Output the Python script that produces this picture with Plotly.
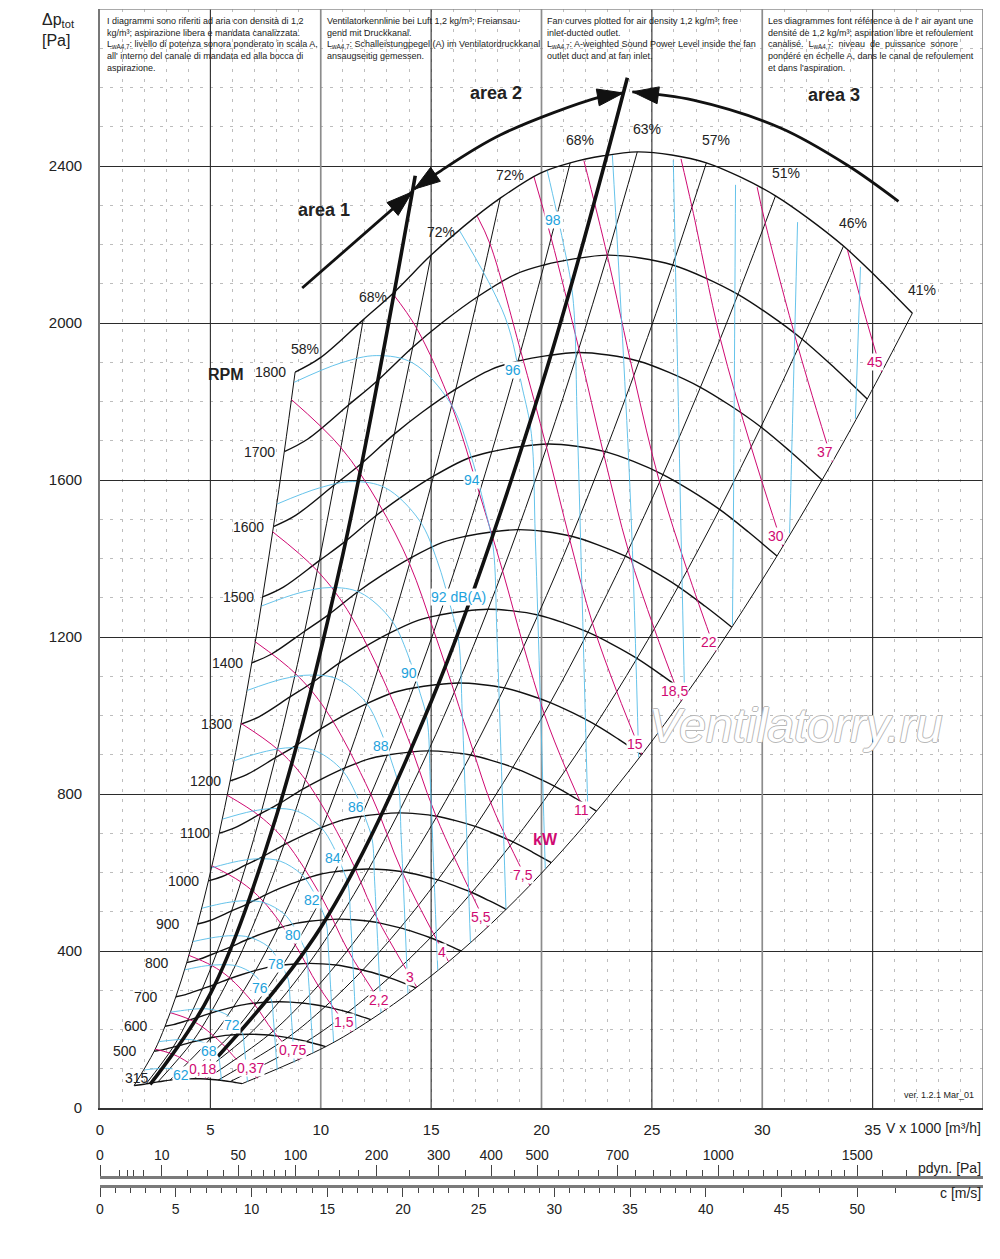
import numpy as np
import plotly.graph_objects as go

FONT = "Liberation Sans, Arial, sans-serif"
INK = "#111111"
MAGENTA = "#cf0a72"
CYAN_LINE = "#55bce8"
CYAN_TEXT = "#1ea2dc"

# ==========================================
# DATA
# ==========================================

# fan speeds drawn, and the 1800 rpm characteristic (V x 1000 m3/h, Pa)
rpm = [315, 500, 600, 700, 800, 900, 1000, 1100, 1200, 1300, 1400, 1500, 1600, 1700, 1800]
rpm_top = 1800
base_flow = [8.84, 9.97, 11.92, 13.28, 15.0, 16.45, 18.13, 19.95, 21.3, 22.8,
             24.34, 25.9, 27.47, 29.0, 30.6, 32.1, 33.68, 35.25, 36.8]
base_press = [1875, 1911, 2008, 2076, 2173, 2245, 2318, 2382, 2408, 2426,
              2436, 2428, 2408, 2372, 2324, 2266, 2196, 2113, 2025]

# efficiency lines, where they meet the 1800 rpm curve
eff_labels = ["58%", "68%", "72%", "72%", "68%", "63%", "57%", "51%", "46%", "41%"]
eff_flow = [8.84, 11.92, 15.0, 18.13, 21.3, 24.34, 27.47, 30.6, 33.68, 36.8]
eff_press = [1875, 2008, 2173, 2318, 2408, 2436, 2408, 2324, 2196, 2025]

# absorbed power lines [kW]
kw_labels = ["0,18", "0,37", "0,75", "1,5", "2,2", "3", "4", "5,5",
             "7,5", "11", "15", "18,5", "22", "30", "37", "45"]
kw_flow = [
    [2.50, 3.15, 3.64, 4.36, 4.82],
    [3.18, 4.00, 4.63, 5.55, 6.20, 7.14],
    [4.02, 5.06, 5.86, 7.02, 7.84, 9.04],
    [5.07, 6.38, 7.39, 8.85, 9.88, 11.39],
    [5.76, 7.25, 8.39, 10.05, 11.23, 12.94],
    [6.39, 8.04, 9.31, 11.15, 12.45, 14.35],
    [7.03, 8.85, 10.24, 12.27, 13.71, 15.79],
    [7.82, 9.84, 11.39, 13.64, 15.24, 17.56],
    [8.67, 10.91, 12.63, 14.02, 15.13, 16.05, 16.90, 17.70, 18.58, 19.47],
    [13.26, 14.34, 15.93, 17.18, 18.24, 19.19, 20.12, 21.11, 22.14],
    [17.09, 17.67, 19.06, 20.23, 21.29, 22.31, 23.41, 24.55],
    [19.66, 20.44, 21.69, 22.83, 23.93, 25.11, 26.33],
    [21.92, 22.98, 24.18, 25.35, 26.60, 27.89],
    [26.32, 26.82, 28.10, 29.50, 30.93],
    [29.77, 30.14, 31.63, 33.18],
    [33.86, 34.65, 35.41],
]
kw_press = [
    [150, 140, 128, 101, 75],
    [243, 227, 207, 163, 123, 76],
    [389, 363, 332, 262, 196, 122],
    [617, 576, 527, 415, 312, 194],
    [797, 743, 680, 536, 402, 250],
    [980, 914, 836, 659, 495, 308],
    [1188, 1107, 1013, 799, 599, 373],
    [1468, 1369, 1252, 987, 741, 461],
    [1805, 1683, 1540, 1387, 1214, 1060, 911, 778, 668, 567],
    [2075, 1987, 1790, 1567, 1368, 1176, 1005, 863, 733],
    [2272, 2201, 1928, 1683, 1446, 1235, 1061, 901],
    [2372, 2216, 1935, 1663, 1421, 1221, 1037],
    [2414, 2172, 1866, 1594, 1370, 1163],
    [2418, 2295, 1960, 1684, 1431],
    [2346, 2254, 1937, 1646],
    [2186, 2021, 1875],
]

# sound power level lines [dB(A)]; the last five are unlabelled
db_labels = ["62", "68", "72", "76", "78", "80", "82", "84", "86", "88", "90",
             "92 dB(A)", "94", "96", "98", "", "", "", "", ""]
db_label_at = [5.5] * 13 + [1.75, 0.7] + [None] * 5
db_flow = [
    [2.02, 2.50, 2.87, 3.25, 3.64, 3.83, 3.99, 4.08],
    [2.66, 3.29, 3.79, 4.28, 4.79, 5.05, 5.27, 5.38, 5.43, 5.50],
    [3.19, 3.96, 4.55, 5.15, 5.76, 6.08, 6.33, 6.47, 6.53, 6.61, 6.68],
    [3.84, 4.76, 5.48, 6.19, 6.93, 7.30, 7.61, 7.78, 7.85, 7.94, 8.03],
    [4.21, 5.22, 6.00, 6.78, 7.60, 8.01, 8.35, 8.53, 8.61, 8.71, 8.80],
    [4.62, 5.72, 6.58, 7.44, 8.33, 8.78, 9.15, 9.35, 9.44, 9.55, 9.65],
    [5.06, 6.28, 7.22, 8.16, 9.13, 9.63, 10.04, 10.25, 10.35, 10.47, 10.58],
    [5.55, 6.88, 7.91, 8.94, 10.01, 10.56, 11.00, 11.24, 11.35, 11.48, 11.60],
    [6.09, 7.54, 8.68, 9.80, 10.98, 11.58, 12.07, 12.33, 12.44, 12.59, 12.73],
    [6.68, 8.27, 9.52, 10.75, 12.04, 12.69, 13.23, 13.52, 13.64, 13.80, 13.95],
    [7.32, 9.07, 10.43, 11.79, 13.20, 13.92, 14.50, 14.82, 14.96, 15.13, 15.30],
    [8.03, 9.95, 11.44, 12.93, 14.48, 15.27, 15.91, 16.25, 16.41, 16.60, 16.78],
    [8.80, 10.90, 12.54, 14.17, 15.87, 16.73, 17.44, 17.81, 17.98, 18.19, 18.39],
    [16.29, 18.35, 19.12, 19.54, 19.72, 19.95, 20.17],
    [20.26, 20.97, 21.42, 21.62, 21.87, 22.11],
    [23.21, 24.03, 24.40],
    [25.97, 26.29, 26.48],
    [28.79, 28.70, 28.65],
    [31.60, 31.28, 31.24],
    [34.45, 34.22],
]
db_press = [
    [97, 100, 101, 100, 94, 88, 80, 75],
    [169, 173, 175, 173, 164, 153, 139, 130, 110, 71],
    [244, 250, 253, 250, 237, 221, 201, 188, 159, 113, 67],
    [352, 362, 365, 362, 342, 319, 291, 272, 230, 163, 97],
    [424, 435, 439, 435, 412, 384, 350, 327, 277, 197, 116],
    [509, 523, 528, 523, 495, 462, 421, 394, 333, 236, 140],
    [612, 629, 635, 629, 595, 555, 506, 473, 400, 284, 168],
    [736, 756, 763, 756, 715, 667, 608, 569, 481, 342, 202],
    [885, 909, 918, 909, 860, 802, 731, 684, 578, 411, 243],
    [1064, 1093, 1103, 1093, 1034, 964, 879, 822, 695, 494, 292],
    [1279, 1313, 1326, 1313, 1243, 1159, 1057, 989, 836, 594, 351],
    [1539, 1580, 1596, 1580, 1496, 1395, 1271, 1189, 1005, 714, 422],
    [1849, 1898, 1917, 1898, 1796, 1675, 1527, 1429, 1208, 858, 507],
    [2235, 2015, 1837, 1718, 1453, 1032, 610],
    [2388, 2208, 2066, 1746, 1240, 733],
    [2428, 1549, 893],
    [2415, 1549, 1052],
    [2352, 1549, 1231],
    [2257, 1549, 1464],
    [2143, 1756],
]

# area boundaries (heavy lines) and the area arrows
heavy1_flow = [2.27, 5.0, 8.0, 11.0, 14.28]
heavy1_press = [60, 291, 746, 1410, 2375]
heavy2_flow = [5.35, 10.0, 15.0, 20.0, 23.89]
heavy2_press = [132, 460, 1035, 1840, 2625]

arc1_flow = [9.16, 14.14]
arc1_press = [2089, 2334]
arc2_flow = [14.23, 15.28, 18.13, 22.67, 23.71]
arc2_press = [2341, 2382, 2479, 2576, 2586]
arc3_flow = [24.12, 26.88, 30.83, 33.86, 36.17]
arc3_press = [2589, 2568, 2497, 2402, 2310]

# bottom scales
pdyn_major = [0, 10, 50, 100, 200, 300, 400, 500, 700, 1000, 1500]
pdyn_minor = [1, 2, 3, 5, 20, 30, 40, 60, 70, 80, 90, 125, 150, 175, 250, 350, 450,
              550, 600, 650, 750, 800, 850, 900, 950, 1050, 1100, 1150, 1200, 1250,
              1300, 1350, 1400, 1450, 1600, 1700]
c_major = [0, 5, 10, 15, 20, 25, 30, 35, 40, 45, 50]
c_minor = [v for v in range(1, 40) if v % 5] + [42.5, 47.5, 52.5]

# ==========================================
# GEOMETRY HELPERS
# ==========================================

X_MAX, Y_MAX, C_MAX = 40, 2800, 58.3
PLOT_W, PLOT_H = 883, 1099
SX, SY = PLOT_W / X_MAX, PLOT_H / Y_MAX

fig = go.Figure()


def add_line(x, y, color, width, shape="spline"):
    fig.add_trace(go.Scatter(
        x=x, y=y, mode="lines",
        line=dict(color=color, width=width, shape=shape),
        hoverinfo="skip", showlegend=False
    ))


def add_arrow_head(tip_x, tip_y, from_x, from_y, length=26, width=17):
    tip = np.array([tip_x * SX, tip_y * SY])
    d = tip - np.array([from_x * SX, from_y * SY])
    d = d / np.hypot(*d)
    n = np.array([-d[1], d[0]])
    base = tip - length * d
    pts = [tip, base + width / 2 * n, base - width / 2 * n, tip]
    fig.add_trace(go.Scatter(
        x=[p[0] / SX for p in pts], y=[p[1] / SY for p in pts],
        mode="lines", fill="toself", fillcolor=INK,
        line=dict(color=INK, width=1), hoverinfo="skip", showlegend=False
    ))


ratio = np.array(rpm) / rpm_top

# ==========================================
# TRACES
# ==========================================

# efficiency lines (fan laws: V ~ n, p ~ n^2)
for u, p in zip(eff_flow, eff_press):
    add_line(ratio * u, ratio ** 2 * p, INK, 1.0)

# fan curves per rpm
for s in ratio:
    add_line(s * np.array(base_flow), s ** 2 * np.array(base_press), INK, 1.4)

# power lines
for x, y in zip(kw_flow, kw_press):
    add_line(x, y, MAGENTA, 1.0)

# sound lines
for x, y in zip(db_flow, db_press):
    add_line(x, y, CYAN_LINE, 0.9)

# area boundaries
add_line(heavy1_flow, heavy1_press, INK, 3.6)
add_line(heavy2_flow, heavy2_press, INK, 3.6)

# area arrows
add_line(arc1_flow, arc1_press, INK, 2.8)
add_line(arc2_flow, arc2_press, INK, 2.8)
add_line(arc3_flow, arc3_press, INK, 2.8)
add_arrow_head(arc1_flow[-1], arc1_press[-1], arc1_flow[-2], arc1_press[-2])
add_arrow_head(arc2_flow[0], arc2_press[0], arc2_flow[1], arc2_press[1])
add_arrow_head(arc2_flow[-1], arc2_press[-1], arc2_flow[-2], arc2_press[-2])
add_arrow_head(arc3_flow[0], arc3_press[0], arc3_flow[1], arc3_press[1])

# placeholders so the two scale axes below the chart get drawn
for xa in ["x2", "x3"]:
    fig.add_trace(go.Scatter(x=[None], y=[None], xaxis=xa, yaxis="y2",
                             showlegend=False, hoverinfo="skip"))

# ==========================================
# LABELS
# ==========================================

ann = []


def label(x, y, text, size=14, color="#222", font_extra=None, **kw):
    font = dict(family=FONT, size=size, color=color)
    if font_extra:
        font.update(font_extra)
    d = dict(x=x, y=y, text=text, showarrow=False, font=font)
    d.update(kw)
    ann.append(d)


# watermark first, so every other label sits on top of it
label(31.5, 975, "<i>Ventilatorry.ru</i>", size=48, color="white",
      font_extra=dict(shadow="1px 0 0 #b8b8b8, -1px 0 0 #b8b8b8, "
                             "0 1px 0 #b8b8b8, 0 -1px 0 #b8b8b8"))

for n, s in zip(rpm, ratio):
    txt = str(n)
    shift = 17 if n == 315 else -7 - 8.5 * (4 - len(txt))
    label(s * base_flow[0], s ** 2 * base_press[0], txt, xanchor="right",
          xshift=shift, yshift=7 if n == 315 else 0)

for u, p, t in zip(eff_flow, eff_press, eff_labels):
    label(u, p, t, xshift=10, yshift=23)

for x, y, t in zip(kw_flow, kw_press, kw_labels):
    label(x[-1], y[-1], t, color=MAGENTA, xshift=-4 if t == "0,18" else -7,
          yshift=10, bgcolor="white", borderpad=0)

for x, y, t, at in zip(db_flow, db_press, db_labels, db_label_at):
    if not t:
        continue
    i = int(at)
    f = at - i
    lx = x[i] + f * (x[i + 1] - x[i])
    ly = y[i] + f * (y[i + 1] - y[i])
    if t.startswith("92"):
        label(lx, ly, t, color=CYAN_TEXT, xanchor="left", xshift=-14,
              yshift=-12, bgcolor="white", borderpad=0)
    else:
        label(lx, ly, t, color=CYAN_TEXT, xshift=-5, bgcolor="white", borderpad=0)

label(20.17, 683, "<b>kW</b>", size=16, color=MAGENTA)
label(5.71, 1870, "<b>RPM</b>", size=16)
label(10.15, 2288, "<b>area 1</b>", size=18)
label(17.95, 2586, "<b>area 2</b>", size=18)
label(33.27, 2581, "<b>area 3</b>", size=18)

sub = "L<sub>wA4,7</sub>"
header = [
    (0.23, "I diagrammi sono riferiti ad aria con densità di 1,2<br>"
           "kg/m³; aspirazione libera e mandata canalizzata.<br>"
           + sub + ": livello di potenza sonora ponderato in scala A,<br>"
           "all' interno del canale di mandata ed alla bocca di<br>"
           "aspirazione."),
    (10.2, "Ventilatorkennlinie bei Luft 1,2 kg/m³; Freiansau-<br>"
           "gend mit Druckkanal.<br>"
           + sub + ": Schalleistungpegel (A) im Ventilatordruckkanal<br>"
           "ansaugseitig gemessen."),
    (20.17, "Fan curves plotted for air density 1,2 kg/m³; free<br>"
            "inlet-ducted outlet.<br>"
            + sub + ": A-weighted Sound Power Level inside the fan<br>"
            "outlet duct and at fan inlet."),
    (30.15, "Les diagrammes font référence à de l' air ayant une<br>"
            "densité de 1,2 kg/m³; aspiration libre et refoulement<br>"
            "canalisé.  " + sub + ":  niveau  de  puissance  sonore<br>"
            "pondéré en échelle A, dans le canal de refoulement<br>"
            "et dans l'aspiration."),
]
for hx, htxt in header:
    label(hx, 2787, htxt, size=9, xanchor="left", yanchor="top", align="left")

label(39.7, 33, "ver. 1.2.1 Mar_01", size=9, xanchor="right")

# axis titles
ann.append(dict(xref="paper", yref="paper", x=-0.068, y=1.0, xanchor="left",
                yanchor="top", align="left", showarrow=False,
                text="Δp<sub>tot</sub><br>[Pa]",
                font=dict(family=FONT, size=16, color="#222")))
ann.append(dict(xref="paper", yref="paper", x=1.0, y=0.0675, xanchor="right",
                yanchor="middle", showarrow=False, text="V x 1000 [m³/h]",
                font=dict(family=FONT, size=14, color="#222")))
ann.append(dict(xref="paper", yref="paper", x=1.0, y=0.0342, xanchor="right",
                yanchor="middle", showarrow=False, text="pdyn. [Pa]",
                font=dict(family=FONT, size=14, color="#222")))
ann.append(dict(xref="paper", yref="paper", x=1.0, y=0.0133, xanchor="right",
                yanchor="middle", showarrow=False, text="c [m/s]",
                font=dict(family=FONT, size=14, color="#222")))

# ==========================================
# GRID FRAME
# ==========================================

shapes = []
for gx in range(5, 40, 5):
    gray = gx % 10 == 0
    shapes.append(dict(type="line", x0=gx, x1=gx, y0=0, y1=Y_MAX, layer="between",
                       line=dict(color="#8c8c8c" if gray else "#2b2b2b",
                                 width=1.7 if gray else 1.1)))
shapes.append(dict(type="line", x0=X_MAX, x1=X_MAX, y0=0, y1=Y_MAX, layer="between",
                   line=dict(color="#8c8c8c", width=1.7)))
shapes.append(dict(type="line", x0=0, x1=X_MAX, y0=Y_MAX, y1=Y_MAX, layer="between",
                   line=dict(color="#8c8c8c", width=1.7)))

# ==========================================
# LAYOUT
# ==========================================

minor_grid = dict(showgrid=True, gridcolor="#bdbdbd", griddash="3px,7px", gridwidth=1)
tick_font = dict(family=FONT, size=15, color="#222")

# the page adds an 8 px body margin, so the figure is a little smaller
fig.update_layout(
    width=992, height=1251,
    margin=dict(l=92, r=17, t=1, b=50),
    paper_bgcolor="white", plot_bgcolor="white",
    hovermode=False, showlegend=False,
    annotations=ann, shapes=shapes,
    xaxis=dict(range=[0, X_MAX], domain=[0, 1], anchor="y",
               tickmode="array", tickvals=list(range(0, 40, 5)),
               showgrid=False, zeroline=False, ticks="", ticklabelstandoff=7,
               showline=True, linecolor="#333", linewidth=1.6,
               minor=dict(dtick=1, **minor_grid), tickfont=tick_font),
    yaxis=dict(range=[0, Y_MAX], domain=[0.08417, 1], anchor="x",
               tickmode="array", tickvals=list(range(0, 2800, 400)),
               showgrid=True, gridcolor="#2b2b2b", gridwidth=1.1, zeroline=False,
               ticks="", ticklabelstandoff=13,
               showline=True, linecolor="#777", linewidth=1.6,
               minor=dict(dtick=100, **minor_grid), tickfont=tick_font),
    xaxis2=dict(range=[0, C_MAX], domain=[0, 1], anchor="y2", side="top",
                tickmode="array",
                tickvals=[np.sqrt(v / 0.6) for v in pdyn_major],
                ticktext=[str(v) for v in pdyn_major],
                ticks="outside", ticklen=11, tickwidth=1.3, tickcolor="#444",
                minor=dict(tickmode="array",
                           tickvals=[np.sqrt(v / 0.6) for v in pdyn_minor],
                           ticks="outside", ticklen=6, tickwidth=1, tickcolor="#444"),
                showline=True, linecolor="#7a7a7a", linewidth=2.5,
                showgrid=False, zeroline=False,
                tickfont=dict(family=FONT, size=14, color="#222")),
    xaxis3=dict(range=[0, C_MAX], domain=[0, 1], anchor="y2", side="bottom",
                tickmode="array", tickvals=c_major,
                ticks="outside", ticklen=9, tickwidth=1.3, tickcolor="#444",
                minor=dict(tickmode="array", tickvals=c_minor,
                           ticks="outside", ticklen=5, tickwidth=1, tickcolor="#444"),
                showline=True, linecolor="#7a7a7a", linewidth=2.5,
                showgrid=False, zeroline=False,
                tickfont=dict(family=FONT, size=14, color="#222")),
    yaxis2=dict(domain=[0.02, 0.025], range=[0, 1], anchor="x2", visible=False),
)

fig.write_html("out.html")
